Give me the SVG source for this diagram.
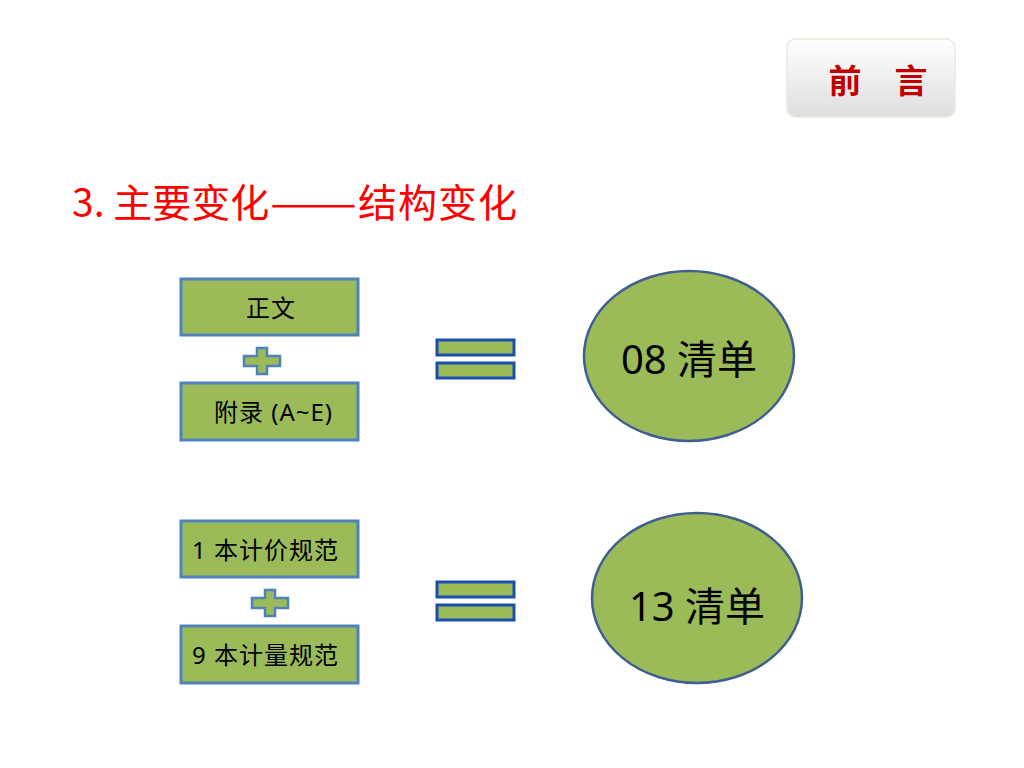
<svg xmlns="http://www.w3.org/2000/svg" width="1024" height="768" viewBox="0 0 1024 768">
<defs>
<linearGradient id="btn" x1="0" y1="0" x2="0" y2="1">
<stop offset="0" stop-color="#ffffff"/>
<stop offset="1" stop-color="#dedede"/>
</linearGradient>
<style>
.box{fill:#9bbb59;stroke:#4f81bd;stroke-width:3}
.plus{fill:#9bbb59;stroke:#4f81bd;stroke-width:2.5}
.eq{fill:#9bbb59;stroke:#1a4fb0;stroke-width:3}
.ell{fill:#9bbb59;stroke:#3e5f8f;stroke-width:2.5}
.bt{font-family:"Noto Sans","Noto Sans CJK SC",sans-serif;font-size:24px;fill:#000;letter-spacing:1px}
.et{font-family:"Noto Sans","Noto Sans CJK SC",sans-serif;font-size:40px;fill:#000;text-anchor:middle}
.hd{font-family:"Noto Sans CJK SC",sans-serif;font-weight:bold;font-size:33px;fill:#c00000;text-anchor:middle}
</style>
</defs>
<rect width="1024" height="768" fill="#ffffff"/>
<g id="header">
<rect x="787" y="39" width="168" height="78" rx="9" fill="url(#btn)" stroke="#ece8da" stroke-width="1.5"/>
<text class="hd" x="845" y="93">前</text>
<text class="hd" x="911" y="93">言</text>
</g>
<text id="title" font-family="Noto Sans CJK SC, sans-serif" font-size="39" fill="#ff0000" y="217"><tspan x="72">3. 主要变化</tspan><tspan x="270" textLength="87" lengthAdjust="spacingAndGlyphs">——</tspan><tspan x="358" letter-spacing="1">结构变化</tspan></text>
<g id="row1">
<g id="box-zhengwen"><rect class="box" x="181" y="279" width="177" height="56"/><text class="bt" x="271" y="317" text-anchor="middle" letter-spacing="2">正文</text></g>
<g id="plus1"><path class="plus" d="M257 348h10v8h13v10h-13v8h-10v-8h-13v-10h13z"/></g>
<g id="box-fulu"><rect class="box" x="181" y="383" width="177" height="57"/><text class="bt" x="214" y="421" letter-spacing="0">附录 (A~E)</text></g>
<g id="eq1"><rect class="eq" x="437" y="340" width="77" height="15"/><rect class="eq" x="437" y="363" width="77" height="15"/></g>
<g id="ell1"><ellipse class="ell" cx="689" cy="356" rx="105" ry="85"/><text class="et" x="689" y="374">08 清单</text></g>
</g>
<g id="row2">
<g id="box-jijia"><rect class="box" x="181" y="521" width="177" height="56"/><text class="bt" x="192" y="559">1 本计价规范</text></g>
<g id="plus2"><path class="plus" d="M265 590h10v8h13v10h-13v8h-10v-8h-13v-10h13z"/></g>
<g id="box-jiliang"><rect class="box" x="181" y="626" width="177" height="57"/><text class="bt" x="192" y="664">9 本计量规范</text></g>
<g id="eq2"><rect class="eq" x="437" y="582" width="77" height="15"/><rect class="eq" x="437" y="605" width="77" height="15"/></g>
<g id="ell2"><ellipse class="ell" cx="697" cy="598" rx="105" ry="85"/><text class="et" x="697" y="621">13 清单</text></g>
</g>
</svg>
